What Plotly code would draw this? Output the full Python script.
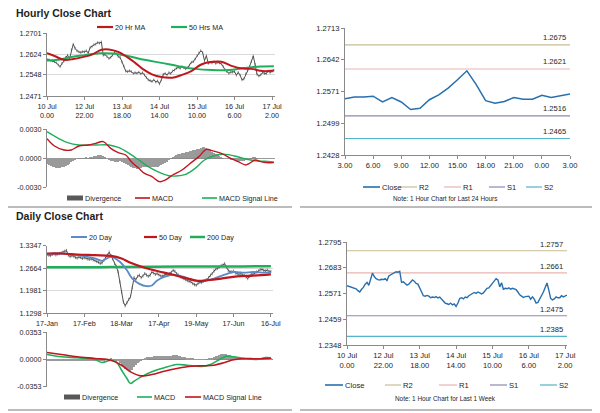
import plotly.graph_objects as go

FONT = "Liberation Sans, Arial, sans-serif"
# the page body keeps an 8px margin, so the figure sits at (8, 8) inside the 600x413 window
OFF = 8
W, H = 600 - OFF, 413 - OFF

# ---------------- DATA ----------------
hourly_tick_pos = [0, 20, 40, 60, 80, 100, 120]
hourly_tick_labels = ["10 Jul<br>0.00", "12 Jul<br>22.00", "13 Jul<br>18.00", "14 Jul<br>14.00",
                      "15 Jul<br>10.00", "16 Jul<br>6.00", "17 Jul<br>2.00"]
day24_tick_pos = [0, 3, 6, 9, 12, 15, 18, 21, 24]
day24_tick_labels = ["3.00", "6.00", "9.00", "12.00", "15.00", "18.00", "21.00", "0.00", "3.00"]
daily_tick_pos = [0, 21, 42, 63, 84, 105, 126]
daily_tick_labels = ["17-Jan", "17-Feb", "18-Mar", "17-Apr", "19-May", "17-Jun", "16-Jul"]

hourly_close = [
    1.2605, 1.2603, 1.2600, 1.2599, 1.2596, 1.2592, 1.2584, 1.2578, 1.2590, 1.2598,
    1.2612, 1.2620, 1.2607, 1.2640, 1.2660, 1.2645, 1.2636, 1.2632, 1.2630, 1.2633,
    1.2632, 1.2636, 1.2628, 1.2648, 1.2652, 1.2658, 1.2660, 1.2666, 1.2664, 1.2668,
    1.2620, 1.2622, 1.2615, 1.2608, 1.2612, 1.2620, 1.2630, 1.2625, 1.2615, 1.2612,
    1.2595, 1.2580, 1.2562, 1.2560, 1.2563, 1.2560, 1.2553, 1.2556, 1.2554, 1.2558,
    1.2552, 1.2556, 1.2548, 1.2538, 1.2530, 1.2527, 1.2524, 1.2530, 1.2522, 1.2526,
    1.2515, 1.2530, 1.2550, 1.2553, 1.2548, 1.2556, 1.2553, 1.2562, 1.2566, 1.2572,
    1.2576, 1.2572, 1.2578, 1.2574, 1.2570, 1.2574, 1.2584, 1.2594, 1.2596, 1.2606,
    1.2618, 1.2628, 1.2636, 1.2630, 1.2600, 1.2618, 1.2590, 1.2594, 1.2592, 1.2596,
    1.2590, 1.2594, 1.2592, 1.2588, 1.2578, 1.2566, 1.2560,
    1.2554, 1.2558, 1.2558, 1.2560, 1.2547, 1.2557, 1.2547, 1.2530, 1.2533, 1.2552,
    1.2563, 1.2578, 1.2597, 1.2617, 1.2586, 1.2550, 1.2544, 1.2548, 1.2557, 1.2553,
    1.2553, 1.2562, 1.2557, 1.2561, 1.2565]

ma20h_idx = [0, 4, 9, 14, 19, 24, 29, 33, 38, 43, 47, 51, 56, 61, 67, 72, 77, 82, 87, 93, 98, 103, 109, 115, 121]
ma20h_val = [1.2627, 1.2617, 1.2603, 1.2606, 1.2613, 1.2622, 1.2640, 1.2641, 1.2632, 1.2612, 1.2592, 1.2570,
             1.2550, 1.2540, 1.2538, 1.2548, 1.2562, 1.2585, 1.2595, 1.2596, 1.2582, 1.2572, 1.2570, 1.2562, 1.2564]
ma50h_idx = [0, 6, 13, 20, 28, 35, 43, 52, 61, 70, 79, 88, 97, 105, 114, 121]
ma50h_val = [1.2601, 1.2603, 1.2613, 1.2620, 1.2627, 1.2626, 1.2617, 1.2603, 1.2592, 1.2580, 1.2570, 1.2566,
             1.2566, 1.2573, 1.2579, 1.2580]

macdh_idx = [0, 4, 9, 13, 17, 22, 26, 30, 34, 38, 42, 45, 49, 52, 56, 60, 63, 67, 72, 76, 81, 85, 88, 93,
             98, 102, 106, 108, 111, 114, 117, 121]
macdh_val = [0.0020, 0.00124, 0.00083, 0.00083, 0.00124, 0.00135, 0.00152, 0.00169, 0.00100, 0.00055, 0.00031,
             -0.00038, -0.00107, -0.00159, -0.00193, -0.00245, -0.00228, -0.00176, -0.00124, -0.00062, 0.00014,
             0.00090, 0.00076, 0.00048, -0.00003, -0.00038, -0.00072, -0.00055, -0.00021, -0.00038, -0.00048,
             -0.00048]
sigh_idx = [0, 6, 11, 17, 26, 33, 38, 43, 49, 54, 59, 65, 69, 74, 79, 84, 90, 95, 100, 106, 111, 116, 121]
sigh_val = [0.00272, 0.00204, 0.00159, 0.00135, 0.00135, 0.00135, 0.00110, 0.00059, -0.00021, -0.00090,
            -0.00141, -0.00183, -0.00186, -0.00169, -0.00107, -0.00021, 0.00028, 0.00038, 0.00021, -0.00010,
            -0.00028, -0.00034, -0.00041]
divh_val = [
    -0.0006, -0.0007, -0.0008, -0.0009, -0.0009, -0.0010, -0.0010, -0.0010, -0.0009, -0.0009,
    -0.0008, -0.0007, -0.0006, -0.0004, -0.0003, -0.0002,
    -0.0001, 0.0000, 0.0000, 0.0000, 0.0000, 0.0001, 0.0000,
    0.0001, 0.0001, 0.0002, 0.0002, 0.0003, 0.0003, 0.0003, 0.0002, 0.0001,
    -0.0001, -0.0002, -0.0003, -0.0003, -0.0004, -0.0004, -0.0004, -0.0003, -0.0004, -0.0005, -0.0006, -0.0007,
    -0.0008, -0.0009, -0.0010, -0.0010, -0.0011, -0.0010, -0.0010, -0.0009, -0.0009,
    -0.0009, -0.0009, -0.0009, -0.0009, -0.0009, -0.0009, -0.0009, -0.0008, -0.0007, -0.0006, -0.0005,
    -0.0004, -0.0002, 0.0000,
    0.0001, 0.0002, 0.0003, 0.0004, 0.0004, 0.0005, 0.0005, 0.0006, 0.0006, 0.0007, 0.0007, 0.0008,
    0.0008, 0.0009, 0.0009, 0.0010, 0.0011, 0.0011,
    0.0010, 0.0009, 0.0008, 0.0006, 0.0005, 0.0004, 0.0003, 0.0002, 0.0001, 0.0000,
    -0.0001, -0.0001, -0.0001, -0.0002, -0.0002, -0.0002, -0.0003, -0.0003, -0.0003, -0.0003, -0.0003, -0.0002,
    -0.0001, -0.0001, 0.0000, 0.0001, 0.0001, 0.0000,
    -0.0001, -0.0001, -0.0001, -0.0001, -0.0001, -0.0001, -0.0001, -0.0001, -0.0001]

level_names = ["R2", "R1", "S1", "S2"]
levels_24h = [1.2675, 1.2621, 1.2516, 1.2465]
levels_week = [1.2757, 1.2661, 1.2475, 1.2385]

daily_close = [
    1.3080, 1.3060, 1.3050, 1.3085, 1.3100, 1.3070, 1.3095, 1.3110, 1.3125, 1.3150,
    1.3180, 1.3200, 1.3060, 1.3020, 1.3045, 1.3030, 1.2990, 1.2975, 1.3005, 1.2990,
    1.2960, 1.2985, 1.2970, 1.2940, 1.2935, 1.2950, 1.2920, 1.2900, 1.2870, 1.2850,
    1.2810, 1.2830, 1.2900, 1.2980, 1.3060, 1.3150, 1.3040, 1.2950, 1.2810, 1.2720,
    1.2560, 1.2250, 1.1950, 1.1640, 1.1530, 1.1620, 1.1720, 1.1800, 1.2080, 1.2380,
    1.2320, 1.2420, 1.2450, 1.2380, 1.2430, 1.2500, 1.2460, 1.2420, 1.2450, 1.2550,
    1.2520, 1.2480, 1.2500, 1.2460, 1.2430, 1.2420, 1.2450, 1.2480, 1.2450, 1.2500,
    1.2540, 1.2600, 1.2570, 1.2500, 1.2450, 1.2400, 1.2380, 1.2350, 1.2320, 1.2290,
    1.2270, 1.2250, 1.2200, 1.2170, 1.2150, 1.2200, 1.2240, 1.2230, 1.2270, 1.2300,
    1.2320, 1.2380, 1.2450, 1.2500, 1.2580, 1.2640, 1.2660, 1.2700, 1.2740, 1.2760,
    1.2800, 1.2700, 1.2600, 1.2560, 1.2550, 1.2570, 1.2520, 1.2500, 1.2480, 1.2510,
    1.2460, 1.2450, 1.2400, 1.2350, 1.2420, 1.2490, 1.2480, 1.2530, 1.2550, 1.2580,
    1.2620, 1.2630, 1.2600, 1.2580, 1.2610, 1.2570, 1.2565]

ma20d_idx = [0, 8, 17, 27, 31, 36, 41, 45, 48, 52, 56, 59, 62, 66, 72, 77, 83, 88, 94, 100, 105, 111, 116, 122, 126]
ma20d_val = [1.308, 1.311, 1.306, 1.296, 1.289, 1.301, 1.286, 1.260, 1.235, 1.219, 1.212, 1.214, 1.229, 1.240,
             1.247, 1.240, 1.229, 1.227, 1.235, 1.247, 1.255, 1.253, 1.255, 1.253, 1.253]
ma50d_idx = [0, 8, 17, 27, 36, 42, 47, 55, 62, 70, 77, 85, 90, 98, 107, 116, 126]
ma50d_val = [1.311, 1.311, 1.308, 1.306, 1.304, 1.296, 1.283, 1.268, 1.258, 1.248, 1.238, 1.228, 1.230, 1.235,
             1.242, 1.244, 1.248]
ma200d_idx = [0, 30, 40, 60, 90, 110, 126]
ma200d_val = [1.2695, 1.2695, 1.2705, 1.2712, 1.2715, 1.2720, 1.2725]

macdd_idx = [0, 8, 17, 27, 31, 36, 39, 42, 45, 47, 49, 53, 59, 66, 73, 79, 87, 92, 98, 101, 105, 111, 118, 123, 126]
macdd_val = [0.0065, 0.0035, 0.0022, 0.0000, -0.0039, -0.0009, -0.0030, -0.0139, -0.0247, -0.0312, -0.0281,
             -0.0225, -0.0160, -0.0108, -0.0065, -0.0074, -0.0091, -0.0065, 0.0013, 0.0043, 0.0035, 0.0013,
             0.0000, 0.0026, 0.0022]
sigd_idx = [0, 8, 17, 27, 36, 42, 47, 53, 59, 66, 73, 81, 88, 94, 100, 105, 111, 118, 126]
sigd_val = [0.0091, 0.0065, 0.0035, 0.0013, -0.0009, -0.0074, -0.0160, -0.0212, -0.0195, -0.0152, -0.0117,
            -0.0087, -0.0082, -0.0074, -0.0039, -0.0004, 0.0013, 0.0009, 0.0017]
divd_val = [
    -0.0026, -0.0026, -0.0025, -0.0025, -0.0024, -0.0024, -0.0023, -0.0022, -0.0021, -0.0020,
    -0.0019, -0.0018, -0.0017, -0.0016, -0.0015, -0.0015, -0.0014, -0.0014, -0.0013, -0.0013,
    -0.0013, -0.0013, -0.0013, -0.0014, -0.0015, -0.0016, -0.0018, -0.0020, -0.0022, -0.0024,
    -0.0026, -0.0024, -0.0018, -0.0010, -0.0004, 0.0002, 0.0004, 0.0002, -0.0005, -0.0012,
    -0.0025, -0.0045, -0.0070, -0.0098, -0.0125, -0.0140, -0.0150, -0.0160, -0.0135, -0.0100,
    -0.0080, -0.0055, -0.0035, -0.0013, 0.0000, 0.0013, 0.0023, 0.0030, 0.0034, 0.0035,
    0.0037, 0.0039, 0.0041, 0.0042, 0.0043, 0.0044, 0.0044, 0.0045, 0.0046, 0.0047,
    0.0048, 0.0049, 0.0050, 0.0050, 0.0046, 0.0040, 0.0034, 0.0028, 0.0023, 0.0019,
    0.0014, 0.0010, 0.0006, 0.0002, -0.0002, -0.0005, -0.0007, -0.0008, -0.0006, -0.0003,
    0.0000, 0.0004, 0.0010, 0.0018, 0.0027, 0.0036, 0.0045, 0.0055, 0.0062, 0.0066,
    0.0068, 0.0066, 0.0060, 0.0052, 0.0045, 0.0038, 0.0030, 0.0022, 0.0015, 0.0008,
    0.0003, 0.0000, -0.0003, -0.0005, -0.0007, -0.0008, -0.0009, -0.0008, -0.0007, -0.0004,
    -0.0001, 0.0003, 0.0007, 0.0011, 0.0012, 0.0008, 0.0005]

# ---------------- STYLE ----------------
RED = "#C0161D"
GREEN = "#1FAE5B"
BLUE_MA = "#5B8BC5"
CLOSE_BLUE = "#276FAF"
GREY_BAR = "#9A9A9A"
PRICE_GREY = "#505050"
LEVEL_COLORS = ["#C6BE94", "#E8B4B2", "#8F86AE", "#52B3CC"]
AXIS = "#8A8A8A"
GRID = "#D9D9D9"
TXT = "#1E1E1E"
FS_LEFT = 7.2
FS_RIGHT = 7.6
FS_LEG = 7.2


def px(x):
    """window pixel x -> paper fraction"""
    return (x - OFF) / W


def py(y):
    """window pixel y -> paper fraction"""
    return 1 - (y - OFF) / H


hidx = list(range(len(hourly_close)))
didx = list(range(len(daily_close)))
last24 = hourly_close[-25:]
last24_idx = list(range(len(last24)))

fig = go.Figure()

# --- Hourly price panel (x, y)
fig.add_trace(go.Scatter(x=hidx, y=hourly_close, mode="lines", line=dict(color=PRICE_GREY, width=1),
                         error_y=dict(type="constant", value=0.0005, width=0, thickness=1, color="#8A8A8A"),
                         xaxis="x", yaxis="y"))
fig.add_trace(go.Scatter(x=ma50h_idx, y=ma50h_val, mode="lines", line=dict(color=GREEN, width=2, shape="spline"),
                         xaxis="x", yaxis="y"))
fig.add_trace(go.Scatter(x=ma20h_idx, y=ma20h_val, mode="lines", line=dict(color=RED, width=2, shape="spline"),
                         xaxis="x", yaxis="y"))

# --- Hourly MACD (x2, y2)
fig.add_trace(go.Bar(x=hidx, y=divh_val, marker=dict(color=GREY_BAR, line=dict(width=0)), width=0.45,
                     xaxis="x2", yaxis="y2"))
fig.add_trace(go.Scatter(x=sigh_idx, y=sigh_val, mode="lines", line=dict(color=GREEN, width=1.4, shape="spline"),
                         xaxis="x2", yaxis="y2"))
fig.add_trace(go.Scatter(x=macdh_idx, y=macdh_val, mode="lines", line=dict(color=RED, width=1.4, shape="spline"),
                         xaxis="x2", yaxis="y2"))

# --- Last 24 hours (x3, y3)
for name, lv, col in zip(level_names, levels_24h, LEVEL_COLORS):
    fig.add_trace(go.Scatter(x=[last24_idx[0], last24_idx[-1]], y=[lv, lv], mode="lines",
                             line=dict(color=col, width=1.2), xaxis="x3", yaxis="y3"))
fig.add_trace(go.Scatter(x=last24_idx, y=last24, mode="lines", line=dict(color=CLOSE_BLUE, width=1.5),
                         xaxis="x3", yaxis="y3"))

# --- Daily price (x4, y4)
fig.add_trace(go.Scatter(x=didx, y=daily_close, mode="lines", line=dict(color=PRICE_GREY, width=1),
                         error_y=dict(type="constant", value=0.005, width=0, thickness=1, color="#8A8A8A"),
                         xaxis="x4", yaxis="y4"))
fig.add_trace(go.Scatter(x=ma200d_idx, y=ma200d_val, mode="lines", line=dict(color=GREEN, width=2.5, shape="spline"),
                         xaxis="x4", yaxis="y4"))
fig.add_trace(go.Scatter(x=ma20d_idx, y=ma20d_val, mode="lines", line=dict(color=BLUE_MA, width=1.8, shape="spline"),
                         xaxis="x4", yaxis="y4"))
fig.add_trace(go.Scatter(x=ma50d_idx, y=ma50d_val, mode="lines", line=dict(color=RED, width=2.2, shape="spline"),
                         xaxis="x4", yaxis="y4"))

# --- Daily MACD (x5, y5)
fig.add_trace(go.Bar(x=didx, y=divd_val, marker=dict(color=GREY_BAR, line=dict(width=0)), width=0.45,
                     xaxis="x5", yaxis="y5"))
fig.add_trace(go.Scatter(x=macdd_idx, y=macdd_val, mode="lines", line=dict(color=GREEN, width=1.6, shape="spline"),
                         xaxis="x5", yaxis="y5"))
fig.add_trace(go.Scatter(x=sigd_idx, y=sigd_val, mode="lines", line=dict(color=RED, width=1.6, shape="spline"),
                         xaxis="x5", yaxis="y5"))

# --- Last week hourly (x6, y6)
for name, lv, col in zip(level_names, levels_week, LEVEL_COLORS):
    fig.add_trace(go.Scatter(x=[hidx[0], hidx[-1]], y=[lv, lv], mode="lines",
                             line=dict(color=col, width=1.2), xaxis="x6", yaxis="y6"))
fig.add_trace(go.Scatter(x=hidx, y=hourly_close, mode="lines", line=dict(color=CLOSE_BLUE, width=1.4),
                         xaxis="x6", yaxis="y6"))

fig.update_traces(showlegend=False, hoverinfo="skip")


def yaxis(dom, rng, vals, fmt, grid, anchor, fs):
    return dict(domain=[py(dom[1]), py(dom[0])], range=rng, tickvals=vals,
                ticktext=[fmt.format(v) for v in vals], showgrid=grid, gridcolor=GRID, gridwidth=1,
                showline=True, linecolor=AXIS, linewidth=1, ticks="outside", ticklen=3, tickcolor=AXIS,
                tickfont=dict(family=FONT, size=fs, color=TXT), zeroline=False, anchor=anchor,
                fixedrange=True, automargin=False)


def xaxis(dom, rng, vals, labels, anchor, fs=7.2, show=True):
    d = dict(domain=[px(dom[0]), px(dom[1])], range=rng, anchor=anchor, showgrid=False, zeroline=False,
             fixedrange=True, automargin=False)
    if show:
        d.update(tickvals=vals, ticktext=labels, showline=True, linecolor=AXIS, linewidth=1, ticks="outside",
                 ticklen=3, tickcolor=AXIS, tickfont=dict(family=FONT, size=fs, color=TXT), tickangle=0)
    else:
        d.update(showticklabels=False, showline=False, ticks="")
    return d


fmt4 = "{:.4f}"
layout = dict(
    width=W, height=H, margin=dict(l=0, r=0, t=0, b=0, pad=0, autoexpand=False),
    paper_bgcolor="white", plot_bgcolor="white",
    font=dict(family=FONT, color=TXT), bargap=0, showlegend=False,
    xaxis=xaxis((47, 275), [0, 121.6], hourly_tick_pos, hourly_tick_labels, "y", FS_LEFT),
    yaxis=yaxis((33, 96), [1.2471, 1.2701], [1.2471, 1.2548, 1.2624, 1.2701], fmt4, True, "x", FS_LEFT),
    xaxis2=xaxis((47, 275), [0, 121.6], None, None, "y2", show=False),
    yaxis2=yaxis((129, 187), [-0.0030, 0.0030], [-0.0030, 0.0, 0.0030], fmt4, True, "x2", FS_LEFT),
    xaxis3=xaxis((345, 570), [0, 24], day24_tick_pos, day24_tick_labels, "y3", FS_RIGHT),
    yaxis3=yaxis((28, 155), [1.2428, 1.2713], [1.2428, 1.2499, 1.2571, 1.2642, 1.2713], fmt4, False, "x3",
                 FS_RIGHT),
    xaxis4=xaxis((47, 273), [0, 127.2], daily_tick_pos, daily_tick_labels, "y4", FS_LEFT),
    yaxis4=yaxis((245.7, 313.3), [1.1298, 1.3347], [1.1298, 1.1981, 1.2664, 1.3347], fmt4, True, "x4", FS_LEFT),
    xaxis5=xaxis((47, 273), [0, 127.2], None, None, "y5", show=False),
    yaxis5=yaxis((332.3, 386.7), [-0.0353, 0.0353], [-0.0353, 0.0, 0.0353], fmt4, True, "x5", FS_LEFT),
    xaxis6=xaxis((347, 567), [0, 121], hourly_tick_pos, hourly_tick_labels, "y6", FS_RIGHT),
    yaxis6=yaxis((242, 345), [1.2348, 1.2795], [1.2348, 1.2459, 1.2571, 1.2683, 1.2795], fmt4, False, "x6",
                 FS_RIGHT),
)
layout["yaxis2"].update(zeroline=True, zerolinecolor=AXIS, zerolinewidth=1)
layout["yaxis5"].update(zeroline=True, zerolinecolor=AXIS, zerolinewidth=1)
fig.update_layout(**layout)

shapes = []
annotations = []


def hline(x0, x1, y, color, width):
    shapes.append(dict(type="line", xref="paper", yref="paper", x0=px(x0), x1=px(x1), y0=py(y), y1=py(y),
                       line=dict(color=color, width=width)))


def text(x, y, s, size=FS_LEG, anchor="left", bold=False, color=TXT):
    annotations.append(dict(xref="paper", yref="paper", x=px(x), y=py(y), text=("<b>%s</b>" % s) if bold else s,
                            showarrow=False, xanchor=anchor, yanchor="middle", borderpad=0,
                            font=dict(family=FONT, size=size, color=color)))


def legend_line(x0, x1, y, color, label, w=2, size=FS_LEG):
    hline(x0, x1, y, color, w)
    text(x1 + 1, y, label, size=size)


def legend_box(x0, x1, y, color, label):
    shapes.append(dict(type="rect", xref="paper", yref="paper", x0=px(x0), x1=px(x1), y0=py(y + 2.5),
                       y1=py(y - 2.5), fillcolor=color, line=dict(width=0)))
    text(x1 + 1, y, label)


# titles
text(15, 13, "Hourly Close Chart", size=10.5, bold=True)
text(15, 216, "Daily Close Chart", size=10.5, bold=True)

# legends
legend_line(97, 113, 27, RED, "20 Hr MA", 2.2)
legend_line(171, 187, 27, GREEN, "50 Hrs MA", 2.2)
legend_box(67, 83, 198, "#595959", "Divergence")
legend_line(135, 150, 198, RED, "MACD", 1.6)
legend_line(202, 217, 198, GREEN, "MACD Signal Line", 1.6)
legend_line(71, 87, 237, BLUE_MA, "20 Day", 2)
legend_line(144, 157, 237, RED, "50 Day", 2.2)
legend_line(190, 205, 237, GREEN, "200 Day", 2.5)
legend_box(64, 80, 397, "#595959", "Divergence")
legend_line(137, 152, 397, GREEN, "MACD", 1.6)
legend_line(185, 201, 397, RED, "MACD Signal Line", 1.6)

legend_line(363, 380, 187, CLOSE_BLUE, "Close", 1.6, FS_RIGHT)
for (x0, x1), nm, col in zip([(400, 417), (444, 461), (489, 505), (526, 542)], level_names, LEVEL_COLORS):
    legend_line(x0, x1, 187, col, nm, 1.2, FS_RIGHT)
text(445, 198, "Note: 1 Hour Chart for Last 24 Hours", size=6.4, anchor="center")

legend_line(325, 343, 385, CLOSE_BLUE, "Close", 1.6, FS_RIGHT)
for (x0, x1), nm, col in zip([(385, 401), (439, 457), (490, 507), (540, 557)], level_names, LEVEL_COLORS):
    legend_line(x0, x1, 385, col, nm, 1.2, FS_RIGHT)
text(445, 398, "Note: 1 Hour Chart for Last 1 Week", size=6.4, anchor="center")

# level value labels
for lv in levels_24h:
    annotations.append(dict(xref="x3", yref="y3", x=last24_idx[-1], y=lv, text="%.4f" % lv, showarrow=False,
                            xanchor="right", yanchor="bottom", yshift=1, xshift=-2,
                            font=dict(family=FONT, size=FS_RIGHT, color=TXT)))
for lv in levels_week:
    annotations.append(dict(xref="x6", yref="y6", x=hidx[-1], y=lv, text="%.4f" % lv, showarrow=False,
                            xanchor="right", yanchor="bottom", yshift=0, xshift=-2,
                            font=dict(family=FONT, size=FS_RIGHT, color=TXT)))

# separators
hline(OFF, 292, 207, "#A6A6A6", 1.5)
hline(300, 592, 207, "#A6A6A6", 1.5)
hline(OFF, 292, 410, "#A6A6A6", 1.5)
hline(300, 592, 410, "#A6A6A6", 1.5)

fig.update_layout(shapes=shapes, annotations=annotations)
fig.write_html("out.html")
